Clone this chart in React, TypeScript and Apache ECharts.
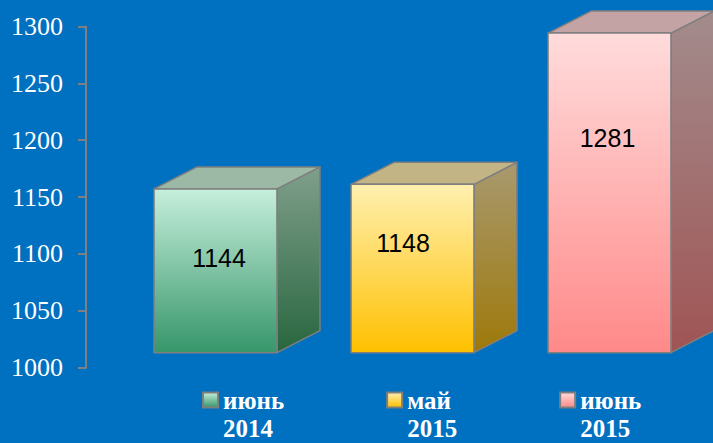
import React, { useEffect, useRef } from "react";
import * as echarts from "echarts";

const CATEGORIES = ["июнь 2014", "май 2015", "июнь 2015"];
const VALUES = [1144, 1148, 1281];
const Y_MIN = 1000;
const Y_MAX = 1300;
const Y_STEP = 50;

// styling (not data)
const FRONT = [
  ["#C6EFDC", "#36966A"],
  ["#FFF0B0", "#FFC000"],
  ["#FFDCDC", "#FF8989"],
];
const TOPFACE = ["#9BB9A5", "#C3B485", "#C4A3A4"];
const SIDE = [
  ["#809F8B", "#28663F"],
  ["#A8996F", "#9E790A"],
  ["#A38C8D", "#A05454"],
];
const LABEL_NUDGE = [
  [3.5, 69],
  [-9.5, 59],
  [-2, 105],
];
const EDGE = "#7F7F7F";
const DEPTH_X = 43;
const DEPTH_Y = 22;
const FLOOR_LIFT = 15;
const SERIF = "'Liberation Serif', 'Times New Roman', serif";
const SANS = "'Liberation Sans', Arial, sans-serif";

const grad = (c: string[]) =>
  new echarts.graphic.LinearGradient(0, 0, 0, 1, [
    { offset: 0, color: c[0] },
    { offset: 1, color: c[1] },
  ]);

export default function App() {
  const ref = useRef<HTMLDivElement>(null);
  useEffect(() => {
    document.body.style.margin = "0";
    if (!ref.current) return;
    const chart = echarts.init(ref.current, undefined, { renderer: "svg" });

    const series = CATEGORIES.map((name, i) => ({
      type: "custom",
      name,
      data: [[i, VALUES[i]]],
      encode: { x: 0, y: 1 },
      itemStyle: { color: grad(FRONT[i]) },
      renderItem: (_params: any, api: any) => {
        const cat = api.value(0);
        const val = api.value(1);
        const top = api.coord([cat, val]);
        const base = api.coord([cat, Y_MIN]);
        const bandW = api.size([1, 0])[0];
        const w = bandW * 0.624;
        const x0 = top[0] - w / 2;
        const x1 = top[0] + w / 2;
        const yt = top[1] - FLOOR_LIFT;
        const yb = base[1] - FLOOR_LIFT;
        const edgeStyle = { stroke: EDGE, lineWidth: 1.5, lineJoin: "round" };
        return {
          type: "group",
          children: [
            {
              type: "polygon",
              shape: {
                points: [
                  [x1, yt],
                  [x1 + DEPTH_X, yt - DEPTH_Y],
                  [x1 + DEPTH_X, yb - DEPTH_Y],
                  [x1, yb],
                ],
              },
              style: { fill: grad(SIDE[i]), ...edgeStyle },
            },
            {
              type: "polygon",
              shape: {
                points: [
                  [x0, yt],
                  [x1, yt],
                  [x1 + DEPTH_X, yt - DEPTH_Y],
                  [x0 + DEPTH_X, yt - DEPTH_Y],
                ],
              },
              style: { fill: TOPFACE[i], ...edgeStyle },
            },
            {
              type: "rect",
              shape: { x: x0, y: yt, width: w, height: yb - yt },
              style: { fill: grad(FRONT[i]), ...edgeStyle },
            },
            {
              type: "text",
              x: top[0] + LABEL_NUDGE[i][0],
              y: yt + LABEL_NUDGE[i][1],
              style: {
                text: String(val),
                fill: "#000",
                font: `25px ${SANS}`,
                align: "center",
                verticalAlign: "middle",
              },
            },
          ],
        };
      },
    }));

    chart.setOption({
      animation: false,
      backgroundColor: "#0070C0",
      grid: { left: 117, right: 5, top: 26.5, bottom: 75.3, containLabel: false },
      xAxis: {
        type: "category",
        data: CATEGORIES,
        axisLine: { show: false },
        axisTick: { show: false },
        axisLabel: { show: false },
        splitLine: { show: false },
      },
      yAxis: {
        type: "value",
        min: Y_MIN,
        max: Y_MAX,
        interval: Y_STEP,
        offset: 31,
        axisLine: { show: true, lineStyle: { color: "#808080", width: 2 } },
        axisTick: { show: true, length: 8, lineStyle: { color: "#808080", width: 2 } },
        axisLabel: {
          color: "#FFFFFF",
          fontSize: 26,
          fontFamily: SERIF,
          margin: 23,
          formatter: (v: number) => String(v),
        },
        splitLine: { show: false },
      },
      legend: {
        left: 202,
        top: 359,
        padding: 0,
        itemGap: 102,
        itemWidth: 15,
        itemHeight: 15,
        icon: "rect",
        selectedMode: false,
        data: CATEGORIES.map((name, i) => ({
          name,
          itemStyle: { color: grad(FRONT[i]), borderColor: EDGE, borderWidth: 2 },
        })),
        formatter: (name: string) => {
          const parts = name.split(" ");
          return `{e| }\n{t|${parts[0]}}\n{t|${parts[1]}}`;
        },
        textStyle: {
          color: "#FFFFFF",
          fontFamily: SERIF,
          fontWeight: "bold",
          fontSize: 25,
          rich: {
            e: { fontSize: 25, lineHeight: 28.5, fontFamily: SERIF },
            t: {
              color: "#FFFFFF",
              fontFamily: SERIF,
              fontWeight: "bold",
              fontSize: 25,
              lineHeight: 28.5,
            },
          },
        },
      },
      series,
    });
    return () => chart.dispose();
  }, []);
  return <div ref={ref} style={{ width: 713, height: 443 }} />;
}
